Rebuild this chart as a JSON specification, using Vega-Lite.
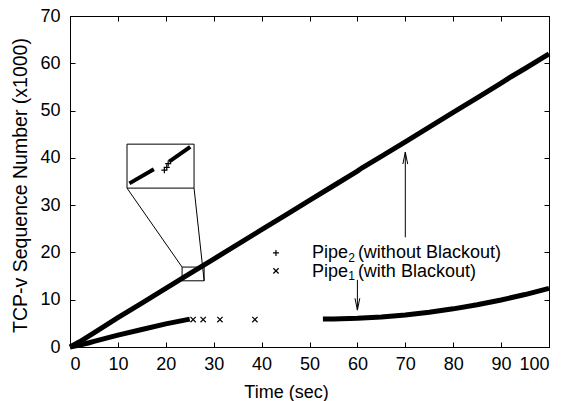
{
  "$schema": "https://vega.github.io/schema/vega-lite/v6.json",
  "width": 479,
  "height": 331,
  "autosize": {"type": "none"},
  "padding": {"left": 70, "top": 16, "right": 16, "bottom": 54},
  "background": "white",
  "config": {
    "view": {"stroke": "black", "strokeWidth": 1},
    "font": "Liberation Sans",
    "axis": {
      "grid": false, "domain": false, "tickColor": "black", "tickSize": -5, "tickWidth": 1,
      "labelColor": "black", "labelFont": "Liberation Sans", "labelFontSize": 18,
      "titleFont": "Liberation Sans", "titleFontSize": 18, "titleFontWeight": "normal", "titleColor": "black"
    }
  },
  "datasets": {
    "lines": [
      {"s": "p2", "t": 0, "v": 0}, {"s": "p2", "t": 2, "v": 1.1}, {"s": "p2", "t": 5, "v": 3.0},
      {"s": "p2", "t": 10, "v": 6.2}, {"s": "p2", "t": 15, "v": 9.3}, {"s": "p2", "t": 20, "v": 12.4},
      {"s": "p2", "t": 25, "v": 15.5}, {"s": "p2", "t": 30, "v": 18.6}, {"s": "p2", "t": 35, "v": 21.7},
      {"s": "p2", "t": 40, "v": 24.8}, {"s": "p2", "t": 45, "v": 27.9}, {"s": "p2", "t": 50, "v": 31.0},
      {"s": "p2", "t": 55, "v": 34.1}, {"s": "p2", "t": 60, "v": 37.2}, {"s": "p2", "t": 61, "v": 37.9},
      {"s": "p2", "t": 65, "v": 40.3}, {"s": "p2", "t": 70, "v": 43.4}, {"s": "p2", "t": 75, "v": 46.5},
      {"s": "p2", "t": 80, "v": 49.6}, {"s": "p2", "t": 85, "v": 52.7}, {"s": "p2", "t": 90, "v": 55.8},
      {"s": "p2", "t": 92, "v": 57.1}, {"s": "p2", "t": 95, "v": 58.9}, {"s": "p2", "t": 100, "v": 62.0},
      {"s": "p1a", "t": 0, "v": 0}, {"s": "p1a", "t": 2, "v": 0.4}, {"s": "p1a", "t": 4, "v": 0.9},
      {"s": "p1a", "t": 5, "v": 1.2}, {"s": "p1a", "t": 10, "v": 2.5}, {"s": "p1a", "t": 15, "v": 3.7},
      {"s": "p1a", "t": 20, "v": 4.9}, {"s": "p1a", "t": 25, "v": 5.9},
      {"s": "p1b", "t": 52.8, "v": 5.9}, {"s": "p1b", "t": 55, "v": 5.92}, {"s": "p1b", "t": 60, "v": 6.06},
      {"s": "p1b", "t": 65, "v": 6.34}, {"s": "p1b", "t": 70, "v": 6.77}, {"s": "p1b", "t": 75, "v": 7.35},
      {"s": "p1b", "t": 80, "v": 8.07}, {"s": "p1b", "t": 85, "v": 8.93}, {"s": "p1b", "t": 90, "v": 9.94},
      {"s": "p1b", "t": 95, "v": 11.09}, {"s": "p1b", "t": 100, "v": 12.4}
    ],
    "inset": [
      {"s": "a", "t": 12.4, "v": 34.6}, {"s": "a", "t": 17.5, "v": 37.6},
      {"s": "b", "t": 20.7, "v": 39.2}, {"s": "b", "t": 25.1, "v": 42.3}
    ],
    "plus": [
      {"t": 43.0, "v": 19.9}, {"t": 19.7, "v": 37.4}, {"t": 20.2, "v": 38.0}, {"t": 20.5, "v": 38.8}
    ],
    "cross": [
      {"t": 43.0, "v": 16.1}, {"t": 25.7, "v": 5.8}, {"t": 27.8, "v": 5.8}, {"t": 31.3, "v": 5.8}, {"t": 38.6, "v": 5.8}
    ],
    "boxes": [
      {"t": 11.9, "t2": 25.9, "v": 33.6, "v2": 42.9},
      {"t": 23.4, "t2": 28.0, "v": 14.0, "v2": 16.9}
    ],
    "segs": [
      {"t": 11.9, "v": 33.6, "t2": 23.4, "v2": 16.9},
      {"t": 25.9, "v": 33.6, "t2": 28.0, "v2": 14.0},
      {"t": 70, "v": 23.2, "t2": 70, "v2": 41.2},
      {"t": 69.5, "v": 38.7, "t2": 70, "v2": 41.2},
      {"t": 70.5, "v": 38.7, "t2": 70, "v2": 41.2},
      {"t": 60, "v": 14.2, "t2": 60, "v2": 7.8},
      {"t": 59.5, "v": 10.3, "t2": 60, "v2": 7.8},
      {"t": 60.5, "v": 10.3, "t2": 60, "v2": 7.8}
    ],
    "labels": [
      {"t": 50.5, "v": 19.8, "txt": "Pipe", "k": "main"},
      {"t": 60.1, "v": 19.8, "txt": "(without Blackout)", "k": "main"},
      {"t": 50.5, "v": 15.9, "txt": "Pipe", "k": "main"},
      {"t": 60.1, "v": 15.9, "txt": "(with Blackout)", "k": "main"},
      {"t": 58.1, "v": 18.9, "txt": "2", "k": "sub"},
      {"t": 58.1, "v": 15.0, "txt": "1", "k": "sub"}
    ]
  },
  "layer": [
    {
      "data": {"name": "lines"},
      "transform": [{"filter": "datum.s === 'p2'"}],
      "mark": {"type": "line", "color": "black", "strokeWidth": 5, "strokeCap": "butt"},
      "encoding": {
        "x": {"field": "t", "type": "quantitative", "scale": {"domain": [0, 100], "nice": false},
          "axis": {"orient": "bottom", "values": [0, 10, 20, 30, 40, 50, 60, 70, 80, 90, 100], "labelPadding": 13,
            "title": "Time (sec)", "titleX": 216, "titleY": 45, "titleBaseline": "middle",
            "titleFontWeight": "normal", "titleFontSize": 18}},
        "y": {"field": "v", "type": "quantitative", "scale": {"domain": [0, 70], "nice": false},
          "axis": {"orient": "left", "values": [0, 10, 20, 30, 40, 50, 60, 70], "labelPadding": 15,
            "title": "TCP-v Sequence Number (x1000)", "titleX": -50, "titleY": 169, "titleBaseline": "middle",
            "titleFontWeight": "normal", "titleFontSize": 19.5}},
        "detail": {"field": "s"}
      }
    },
    {
      "data": {"name": "lines"},
      "transform": [{"filter": "datum.s !== 'p2'"}],
      "mark": {"type": "line", "color": "black", "strokeWidth": 5, "strokeCap": "butt"},
      "encoding": {
        "x": {"field": "t", "type": "quantitative", "scale": {"domain": [0, 100], "nice": false},
          "axis": {"orient": "top", "values": [0, 10, 20, 30, 40, 50, 60, 70, 80, 90, 100], "labels": false, "title": null}},
        "y": {"field": "v", "type": "quantitative", "scale": {"domain": [0, 70], "nice": false},
          "axis": {"orient": "right", "values": [0, 10, 20, 30, 40, 50, 60, 70], "labels": false, "title": null}},
        "detail": {"field": "s"}
      }
    },
    {
      "data": {"name": "inset"},
      "mark": {"type": "line", "color": "black", "strokeWidth": 4, "strokeCap": "butt"},
      "encoding": {
        "x": {"field": "t", "type": "quantitative", "axis": null},
        "y": {"field": "v", "type": "quantitative", "axis": null},
        "detail": {"field": "s"}
      }
    },
    {
      "data": {"name": "plus"},
      "mark": {"type": "point", "shape": "M-1,0L1,0M0,-1L0,1", "filled": false, "stroke": "black", "strokeWidth": 1.2, "size": 36, "opacity": 1},
      "encoding": {
        "x": {"field": "t", "type": "quantitative", "axis": null},
        "y": {"field": "v", "type": "quantitative", "axis": null}
      }
    },
    {
      "data": {"name": "cross"},
      "mark": {"type": "point", "shape": "M-1,-1L1,1M-1,1L1,-1", "filled": false, "stroke": "black", "strokeWidth": 1.2, "size": 28, "opacity": 1},
      "encoding": {
        "x": {"field": "t", "type": "quantitative", "axis": null},
        "y": {"field": "v", "type": "quantitative", "axis": null}
      }
    },
    {
      "data": {"name": "boxes"},
      "mark": {"type": "rect", "fill": null, "fillOpacity": 0, "stroke": "black", "strokeWidth": 1},
      "encoding": {
        "x": {"field": "t", "type": "quantitative", "axis": null},
        "x2": {"field": "t2"},
        "y": {"field": "v", "type": "quantitative", "axis": null},
        "y2": {"field": "v2"}
      }
    },
    {
      "data": {"name": "segs"},
      "mark": {"type": "rule", "color": "black", "strokeWidth": 1},
      "encoding": {
        "x": {"field": "t", "type": "quantitative", "axis": null},
        "x2": {"field": "t2"},
        "y": {"field": "v", "type": "quantitative", "axis": null},
        "y2": {"field": "v2"}
      }
    },
    {
      "data": {"name": "labels"},
      "mark": {"type": "text", "align": "left", "baseline": "middle", "color": "black", "font": "Liberation Sans"},
      "encoding": {
        "x": {"field": "t", "type": "quantitative", "axis": null},
        "y": {"field": "v", "type": "quantitative", "axis": null},
        "text": {"field": "txt"},
        "size": {"field": "k", "type": "nominal", "scale": {"domain": ["main", "sub"], "range": [18, 12]}, "legend": null}
      }
    }
  ],
  "resolve": {"axis": {"x": "independent", "y": "independent"}}
}
